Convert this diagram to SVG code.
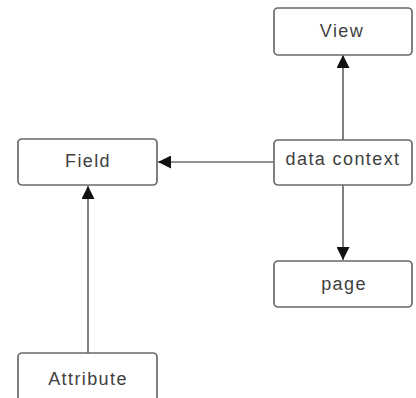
<svg xmlns="http://www.w3.org/2000/svg" width="416" height="398" viewBox="0 0 416 398">
  <style>
    .box { fill: #ffffff; stroke: #6a6a6a; stroke-width: 1.7; }
    .label { font-family: "Liberation Sans", Arial, sans-serif; font-size: 18px; letter-spacing: 1.4px; fill: #404040; text-anchor: middle; }
    .edge { stroke: #6a6a6a; stroke-width: 1.7; fill: none; marker-end: url(#arrow); }
  </style>
  <defs>
    <marker id="arrow" viewBox="0 0 12 12" refX="12" refY="6" markerWidth="13" markerHeight="13" markerUnits="userSpaceOnUse" orient="auto">
      <path d="M0,0 L12,6 L0,12 z" fill="#111111"/>
    </marker>
  </defs>
  <rect width="416" height="398" fill="#ffffff"/>

  <g id="connectors">
    <line class="edge" x1="343" y1="140" x2="343" y2="55"/>
    <line class="edge" x1="273" y1="162" x2="158" y2="162"/>
    <line class="edge" x1="343" y1="185" x2="343" y2="260"/>
    <line class="edge" x1="88" y1="353" x2="88" y2="186"/>
  </g>

  <g id="view">
    <rect class="box" x="274" y="8" width="138" height="47" rx="4"/>
    <text class="label" x="342" y="37">View</text>
  </g>
  <g id="data-context">
    <rect class="box" x="274" y="140" width="138" height="45" rx="4"/>
    <text class="label" x="343" y="165">data context</text>
  </g>
  <g id="field">
    <rect class="box" x="18" y="139" width="139" height="46" rx="4"/>
    <text class="label" x="88" y="167">Field</text>
  </g>
  <g id="page">
    <rect class="box" x="274" y="261" width="138" height="46" rx="4"/>
    <text class="label" x="344" y="290">page</text>
  </g>
  <g id="attribute">
    <rect class="box" x="18" y="353" width="139" height="50" rx="4"/>
    <text class="label" x="88" y="385">Attribute</text>
  </g>
</svg>
